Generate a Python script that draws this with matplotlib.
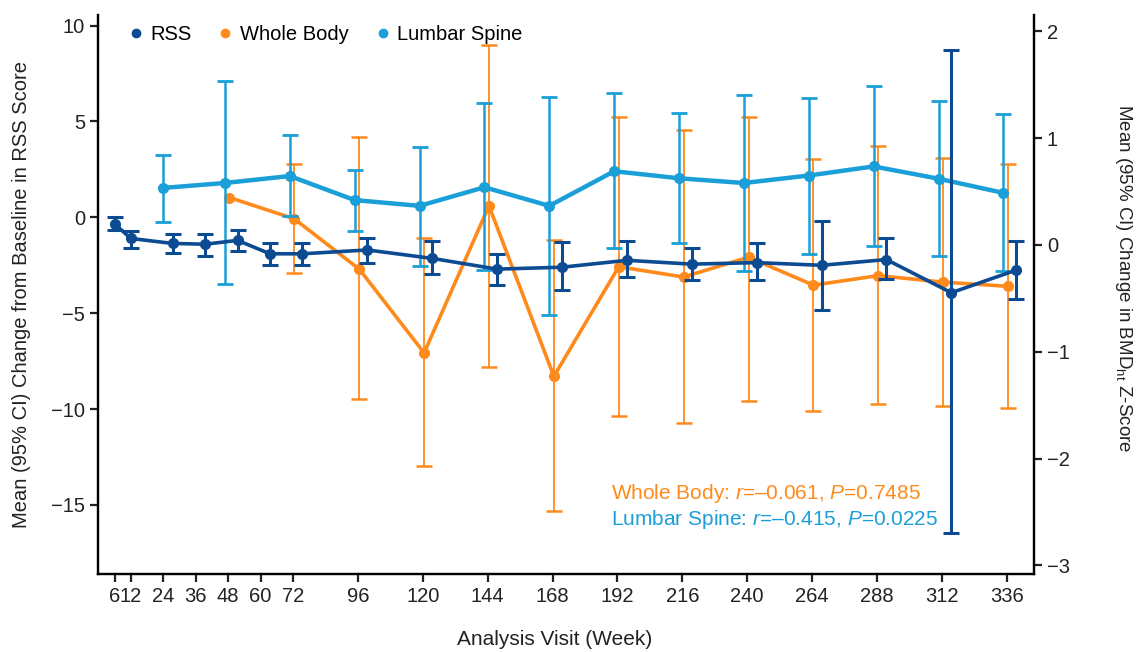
import numpy as np
import matplotlib
matplotlib.use("Agg")
import matplotlib.pyplot as plt
from matplotlib.lines import Line2D

plt.rcParams['font.family'] = ['Liberation Sans', 'DejaVu Sans']
plt.rcParams['mathtext.fontset'] = 'custom'
plt.rcParams['mathtext.rm'] = 'Liberation Sans'
plt.rcParams['mathtext.it'] = 'Liberation Sans:italic'

# RSS score change (left axis)
rss_weeks = [6, 12, 24, 36, 48, 60, 72, 96, 120, 144, 168, 192, 216, 240, 264, 288, 312, 336]
rss_mean = [-0.34, -1.1, -1.36, -1.4, -1.2, -1.9, -1.9, -1.7, -2.14, -2.7, -2.6, -2.24, -2.44, -2.36, -2.5, -2.2, -3.93, -2.75]
rss_low = [-0.64, -1.58, -1.86, -2.0, -1.74, -2.46, -2.5, -2.4, -2.95, -3.53, -3.77, -3.13, -3.25, -3.25, -4.85, -3.23, -16.47, -4.27]
rss_high = [0.0, -0.7, -0.86, -0.86, -0.68, -1.32, -1.32, -1.06, -1.24, -1.92, -1.3, -1.24, -1.6, -1.32, -0.18, -1.08, 8.72, -1.24]

# BMD Z-score change, whole body (right axis)
wb_weeks = [48, 72, 96, 120, 144, 168, 192, 216, 240, 264, 288, 312, 336]
wb_mean = [0.444, 0.244, -0.226, -1.01, 0.366, -1.23, -0.204, -0.30, -0.115, -0.376, -0.287, -0.348, -0.387]
wb_low = [np.nan, -0.26, -1.44, -2.07, -1.14, -2.49, -1.6, -1.67, -1.46, -1.556, -1.49, -1.505, -1.527]
wb_high = [np.nan, 0.76, 1.01, 0.065, 1.87, 0.043, 1.2, 1.075, 1.2, 0.806, 0.93, 0.817, 0.76]

# BMD Z-score change, lumbar spine (right axis)
ls_weeks = [24, 48, 72, 96, 120, 144, 168, 192, 216, 240, 264, 288, 312, 336]
ls_mean = [0.534, 0.58, 0.645, 0.42, 0.366, 0.54, 0.366, 0.69, 0.624, 0.58, 0.65, 0.735, 0.62, 0.487]
ls_low = [0.215, -0.362, 0.269, 0.133, -0.197, -0.237, -0.652, -0.029, 0.02, -0.244, -0.086, -0.01, -0.108, -0.24]
ls_high = [0.842, 1.534, 1.025, 0.7, 0.918, 1.33, 1.387, 1.423, 1.237, 1.405, 1.376, 1.49, 1.35, 1.226]

xticks = [6, 12, 24, 36, 48, 60, 72, 96, 120, 144, 168, 192, 216, 240, 264, 288, 312, 336]

c_rss = '#0c4a92'
c_wb = '#ff8a1c'
c_ls = '#1a9fd8'
c_txt = '#222222'


def errs(mean, low, high):
    mean = np.array(mean)
    return [mean - np.array(low), np.array(high) - mean]


fig = plt.figure(figsize=(11.38, 6.52), dpi=100)
ax = fig.add_axes([0.0864, 0.1196, 0.822, 0.857])
ax2 = ax.twinx()

# small horizontal dodge so the series do not sit on top of each other
rss_x = np.array(rss_weeks) + np.where(np.array(rss_weeks) >= 24, 3.5, 0)
wb_x = np.array(wb_weeks) + 0.5
ls_x = np.array(ls_weeks) - np.where(np.array(ls_weeks) >= 48, 1.2, 0)

ax2.errorbar(wb_x, wb_mean, yerr=errs(wb_mean, wb_low, wb_high), color=c_wb,
             lw=2.6, elinewidth=1.3, capsize=6, capthick=1.8, marker='o', ms=7, zorder=2)
ax2.errorbar(ls_x, ls_mean, yerr=errs(ls_mean, ls_low, ls_high), color=c_ls,
             lw=3.2, elinewidth=1.8, capsize=6, capthick=2, marker='o', ms=7, zorder=3)
ax.errorbar(rss_x, rss_mean, yerr=errs(rss_mean, rss_low, rss_high), color=c_rss,
            lw=2.6, elinewidth=2.2, capsize=6, capthick=2.2, marker='o', ms=7, zorder=4)

ax.set_zorder(ax2.get_zorder() + 1)
ax.patch.set_visible(False)

ax.set_xlim(0, 346)
ax.set_ylim(-18.6, 10.54)
ax2.set_ylim(-3.08, 2.15)
ax.set_xticks(xticks)
ax.set_yticks([10, 5, 0, -5, -10, -15])
ax2.set_yticks([2, 1, 0, -1, -2, -3])

for a in (ax, ax2):
    a.spines['top'].set_visible(False)
    for s in a.spines.values():
        s.set_linewidth(1.6)
    a.tick_params(direction='out', length=6, width=1.6, labelsize=14.5, colors=c_txt)

ax.set_xlabel('Analysis Visit (Week)', fontsize=15, color=c_txt)
ax.xaxis.set_label_coords(0.488, -0.1)
fig.text(0.019, 0.548, 'Mean (95% CI) Change from Baseline in RSS Score', rotation=90,
         ha='center', va='center', fontsize=14.5, color=c_txt)
fig.text(0.987, 0.574, r'Mean (95% CI) Change in BMD$_{\mathrm{ht}}$ Z-Score', rotation=270,
         ha='center', va='center', fontsize=13.5, color=c_txt)

handles = [Line2D([], [], ls='none', marker='o', ms=6, color=c) for c in (c_rss, c_wb, c_ls)]
ax.legend(handles, ['RSS', 'Whole Body', 'Lumbar Spine'], loc='upper left', bbox_to_anchor=(0.01, 1.015),
          ncol=3, frameon=False, fontsize=14.5, handletextpad=0.2, columnspacing=1.2, handlelength=1)

ax.text(0.548, 0.145, 'Whole Body: $r$=\u20130.061, $P$=0.7485', transform=ax.transAxes,
        color=c_wb, fontsize=15, va='center', ha='left')
ax.text(0.548, 0.097, 'Lumbar Spine: $r$=\u20130.415, $P$=0.0225', transform=ax.transAxes,
        color=c_ls, fontsize=15, va='center', ha='left')

fig.savefig('out.png', dpi=100)
